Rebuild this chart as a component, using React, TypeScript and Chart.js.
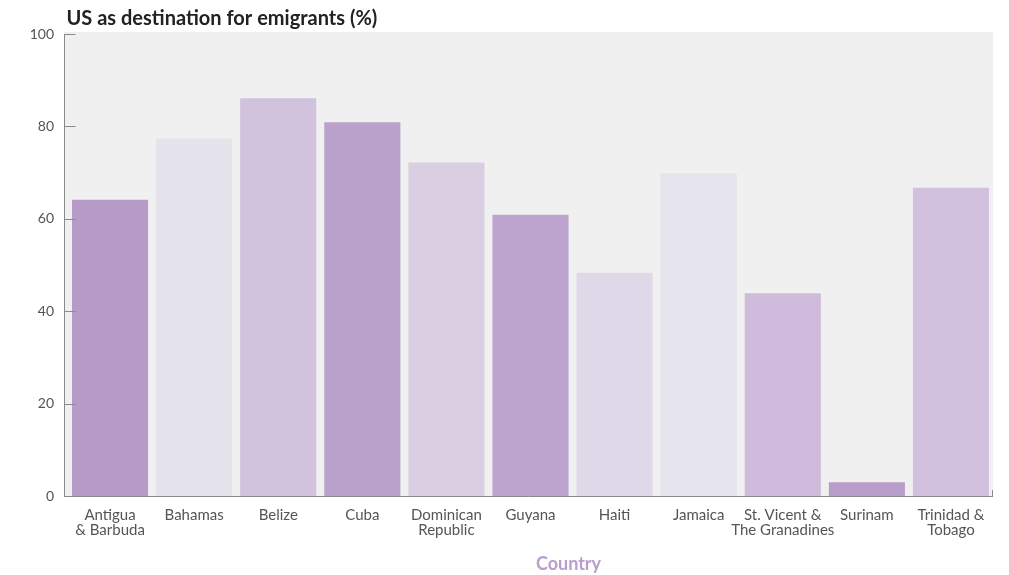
import React, { useEffect, useRef } from "react";
import { Chart, registerables } from "chart.js";

Chart.register(...registerables);

const countries: (string | string[])[] = [
  ["Antigua", "& Barbuda"],
  "Bahamas",
  "Belize",
  "Cuba",
  ["Dominican", "Republic"],
  "Guyana",
  "Haiti",
  "Jamaica",
  ["St. Vicent &", "The Granadines"],
  "Surinam",
  ["Trinidad &", "Tobago"],
];
const usShare = [64.1, 77.4, 86.1, 80.9, 72.2, 60.9, 48.3, 69.8, 43.9, 3.0, 66.7];
const barColors = [
  "#b69ac8", "#e5e3eb", "#d1c2de", "#bba2cc", "#dacee3", "#bca4cf",
  "#dfd8e8", "#e6e4ec", "#cfbbdb", "#b89dca", "#d1c1de",
];
const yTicks = [0, 20, 40, 60, 80, 100];
const titleText = "US as destination for emigrants (%)";
const xTitle = "Country";

const FONT = "Lato, 'Open Sans', sans-serif";
const AXIS_GAP = 4;

const decor = {
  id: "decor",
  beforeDraw(chart: any) {
    const { ctx, chartArea } = chart;
    ctx.save();
    ctx.fillStyle = "#eff0ef";
    const left = chartArea.left - AXIS_GAP;
    ctx.fillRect(left, chartArea.top - 2, chartArea.right - left, chartArea.bottom - chartArea.top + 2);
    ctx.restore();
  },
  afterDraw(chart: any) {
    const { ctx, chartArea, scales } = chart;
    ctx.save();
    ctx.strokeStyle = "#8a8a8a";
    ctx.lineWidth = 1;
    const ax = Math.round(chartArea.left - AXIS_GAP) + 0.5;
    const by = Math.round(chartArea.bottom) + 0.5;
    ctx.beginPath();
    ctx.moveTo(ax, chartArea.top);
    ctx.lineTo(ax, by);
    ctx.lineTo(chartArea.right, by);
    ctx.stroke();
    const y = scales.y;
    yTicks.forEach((v) => {
      const py = Math.round(y.getPixelForValue(v)) + 0.5;
      ctx.beginPath();
      ctx.moveTo(ax, py);
      ctx.lineTo(ax + 11, py);
      ctx.stroke();
    });
    ctx.beginPath();
    ctx.moveTo(chartArea.right - 0.5, chartArea.bottom - 6);
    ctx.lineTo(chartArea.right - 0.5, chartArea.bottom);
    ctx.stroke();
    ctx.fillStyle = "#222";
    ctx.font = `bold 20px ${FONT}`;
    ctx.textBaseline = "middle";
    ctx.textAlign = "left";
    ctx.fillText(titleText, ax + 2, 19);
    ctx.fillStyle = "#b99dcc";
    ctx.font = `bold 18px ${FONT}`;
    ctx.textAlign = "center";
    ctx.fillText(xTitle, (chartArea.left + chartArea.right) / 2 + 38, 564);
    ctx.restore();
  },
};

export default function App() {
  const ref = useRef<HTMLCanvasElement | null>(null);
  useEffect(() => {
    if (!ref.current) return;
    const chart = new Chart(ref.current, {
      type: "bar",
      data: {
        labels: countries,
        datasets: [
          {
            data: usShare,
            backgroundColor: barColors,
            borderWidth: 0,
            barPercentage: 0.905,
            categoryPercentage: 1,
          },
        ],
      },
      options: {
        responsive: false,
        animation: false,
        layout: { padding: { top: 34, right: 16, left: 0, bottom: 0 } },
        plugins: { legend: { display: false }, tooltip: { enabled: false } },
        scales: {
          x: {
            grid: { display: false, drawTicks: false },
            border: { display: false },
            ticks: {
              color: "#555",
              font: { family: FONT, size: 15, lineHeight: 1.05 },
              padding: 11,
              maxRotation: 0,
              autoSkip: false,
            },
            afterFit: (s: any) => {
              s.height = 79;
            },
          },
          y: {
            min: 0,
            max: 100,
            grid: { display: false, drawTicks: false },
            border: { display: false },
            ticks: {
              stepSize: 20,
              color: "#555",
              font: { family: FONT, size: 14 },
              padding: 14,
            },
            afterFit: (s: any) => {
              s.width = 68;
            },
          },
        },
      },
      plugins: [decor],
    });
    return () => chart.destroy();
  }, []);
  return (
    <div style={{ position: "fixed", left: 0, top: 0, width: 1009, height: 575, background: "#fff" }}>
      <canvas ref={ref} width={1009} height={575} />
    </div>
  );
}
